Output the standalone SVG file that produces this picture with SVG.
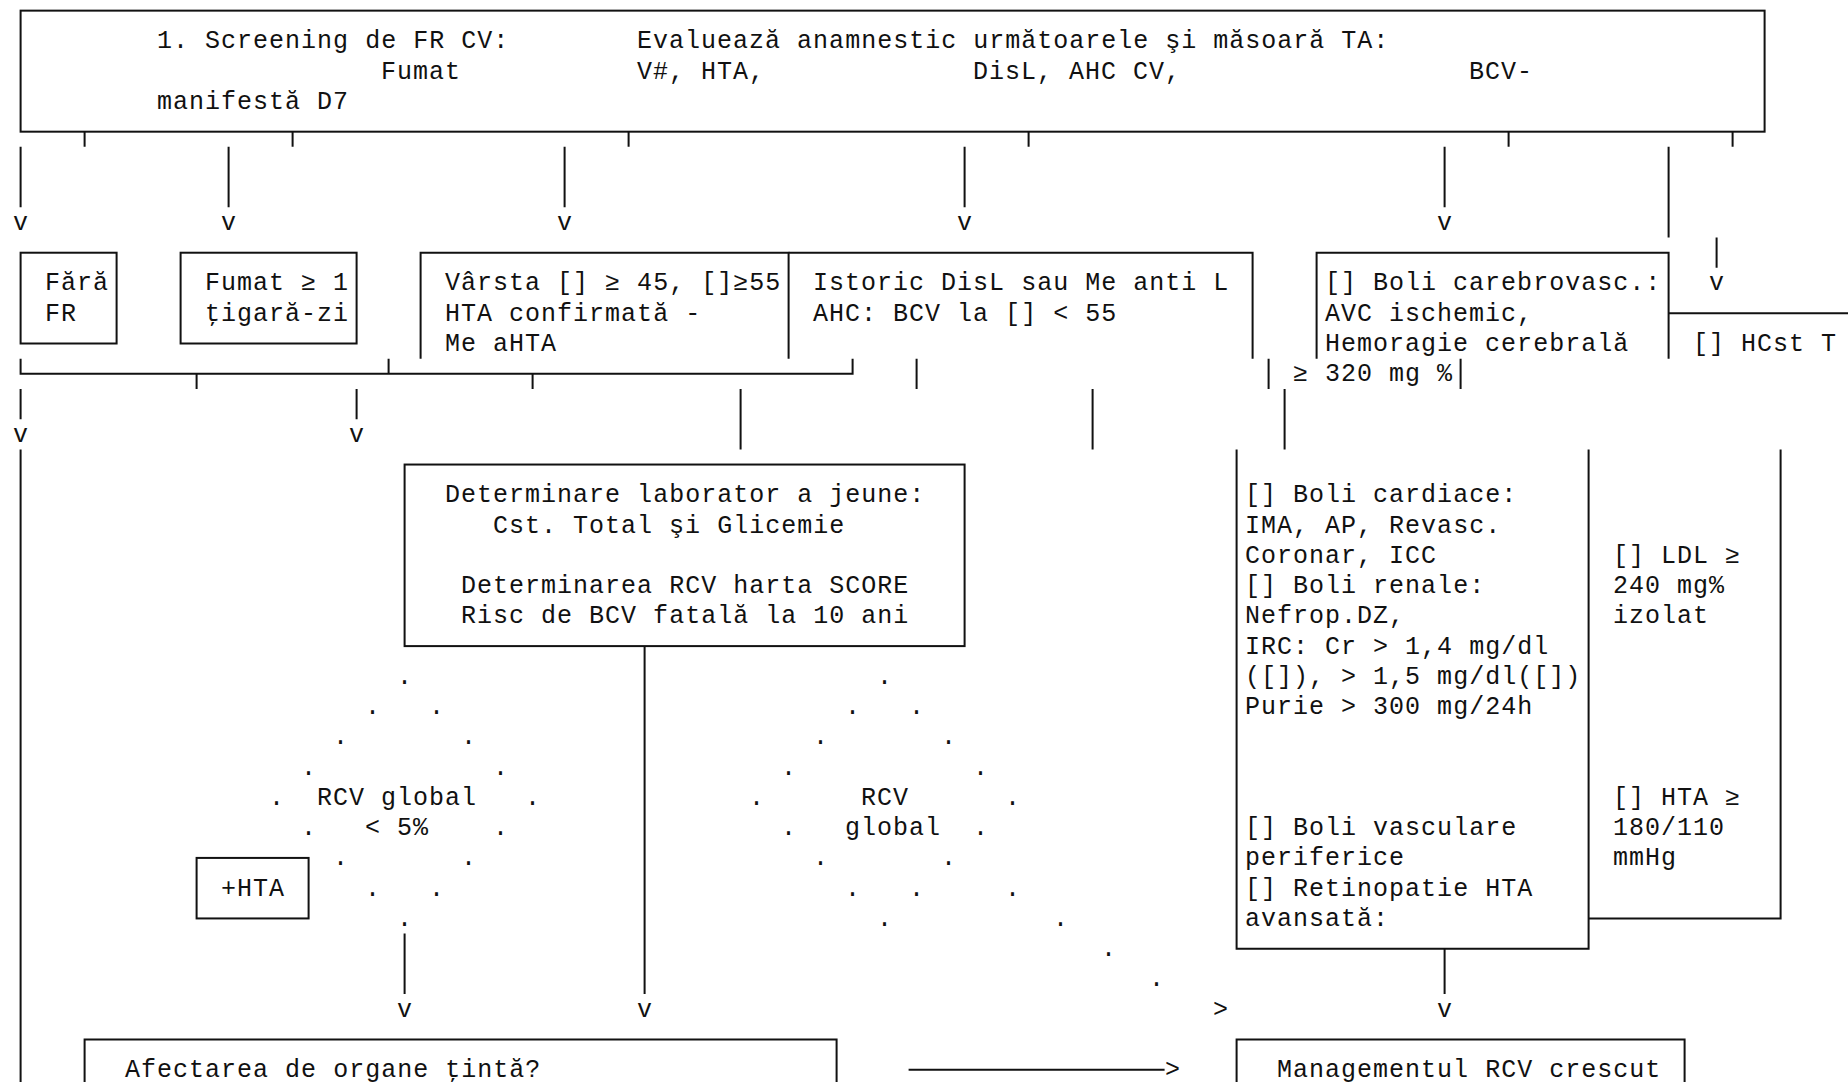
<svg xmlns="http://www.w3.org/2000/svg" width="1848" height="1082" viewBox="0 0 1848 1082">
<style>
  text{font-family:"Liberation Mono","Courier New",monospace;font-size:25px;letter-spacing:1px;fill:#111}
  .c{text-anchor:middle;letter-spacing:0}
  .ln{fill:none;stroke:#111;stroke-width:2}
</style>
<rect width="1848" height="1082" fill="#fff"/>

<!-- 1. screening header -->
<g id="n-screening">
  <rect class="ln" x="20.6" y="10.64" width="1744" height="121.04"/>
  <text x="157.1" y="48.4">1. Screening de FR CV:</text>
  <text x="637.1" y="48.4">Evaluează anamnestic următoarele şi măsoară TA:</text>
  <text x="381.1" y="78.66">Fumat</text>
  <text x="637.1" y="78.66">V#, HTA,</text>
  <text x="973.1" y="78.66">DisL, AHC CV,</text>
  <text x="1469.1" y="78.66">BCV-</text>
  <text x="157.1" y="108.92">manifestă D7</text>
</g>

<!-- risk factor boxes -->
<g id="n-fara">
  <rect class="ln" x="20.6" y="252.72" width="96" height="90.78"/>
  <text x="45.1" y="290.48">Fără</text>
  <text x="45.1" y="320.74">FR</text>
</g>
<g id="n-fumat">
  <rect class="ln" x="180.6" y="252.72" width="176" height="90.78"/>
  <text x="205.1" y="290.48">Fumat ≥ 1</text>
  <text x="205.1" y="320.74">ţigară-zi</text>
</g>
<g id="n-varsta">
  <path class="ln" d="M420.6,358.63 V252.72 H788.6 V358.63"/>
  <text x="445.1" y="290.48">Vârsta [] ≥ 45, []≥55</text>
  <text x="445.1" y="320.74">HTA confirmată -</text>
  <text x="445.1" y="351">Me aHTA</text>
</g>
<g id="n-istoric">
  <path class="ln" d="M788.6,252.72 H1252.6 V358.63"/>
  <text x="813.1" y="290.48">Istoric DisL sau Me anti L</text>
  <text x="813.1" y="320.74">AHC: BCV la [] &lt; 55</text>
</g>
<g id="n-cerebro">
  <path class="ln" d="M1316.6,358.63 V252.72 H1668.6 V358.63"/>
  <text x="1325.1" y="290.48">[] Boli carebrovasc.:</text>
  <text x="1325.1" y="320.74">AVC ischemic,</text>
  <text x="1325.1" y="351">Hemoragie cerebrală</text>
</g>
<g id="n-hcst">
  <path class="ln" d="M1668.6,313.24 H1848"/>
  <text x="1693.1" y="351">[] HCst T</text>
  <path class="ln" d="M1268.6,358.63 V388.89 M1460.6,358.63 V388.89"/>
  <text x="1293.1" y="381.26">≥ 320 mg %</text>
</g>

<!-- laboratory / SCORE box -->
<g id="n-lab">
  <rect class="ln" x="404.6" y="464.54" width="560" height="181.56"/>
  <text x="445.1" y="502.3">Determinare laborator a jeune:</text>
  <text x="493.1" y="532.56">Cst. Total şi Glicemie</text>
  <text x="461.1" y="593.08">Determinarea RCV harta SCORE</text>
  <text x="461.1" y="623.34">Risc de BCV fatală la 10 ani</text>
</g>

<!-- established disease column -->
<g id="n-boli">
  <path class="ln" d="M1236.6,449.41 V948.7 H1588.6 V449.41"/>
  <text x="1245.1" y="502.3">[] Boli cardiace:</text>
  <text x="1245.1" y="532.56">IMA, AP, Revasc.</text>
  <text x="1245.1" y="562.82">Coronar, ICC</text>
  <text x="1245.1" y="593.08">[] Boli renale:</text>
  <text x="1245.1" y="623.34">Nefrop.DZ,</text>
  <text x="1245.1" y="653.6">IRC: Cr &gt; 1,4 mg/dl</text>
  <text x="1245.1" y="683.86">([]), &gt; 1,5 mg/dl([])</text>
  <text x="1245.1" y="714.12">Purie &gt; 300 mg/24h</text>
  <text x="1245.1" y="835.16">[] Boli vasculare</text>
  <text x="1245.1" y="865.42">periferice</text>
  <text x="1245.1" y="895.68">[] Retinopatie HTA</text>
  <text x="1245.1" y="925.94">avansată:</text>
</g>
<g id="n-ldl">
  <path class="ln" d="M1588.6,918.44 H1780.6 V449.41"/>
  <text x="1613.1" y="562.82">[] LDL ≥</text>
  <text x="1613.1" y="593.08">240 mg%</text>
  <text x="1613.1" y="623.34">izolat</text>
  <text x="1613.1" y="804.9">[] HTA ≥</text>
  <text x="1613.1" y="835.16">180/110</text>
  <text x="1613.1" y="865.42">mmHg</text>
</g>

<!-- decision: RCV global < 5% -->
<g id="n-rcv5">
  <text class="c" x="404.6" y="683.86">.</text>
  <text class="c" x="372.6" y="714.12">.</text><text class="c" x="436.6" y="714.12">.</text>
  <text class="c" x="340.6" y="744.38">.</text><text class="c" x="468.6" y="744.38">.</text>
  <text class="c" x="308.6" y="774.64">.</text><text class="c" x="500.6" y="774.64">.</text>
  <text class="c" x="276.6" y="804.9">.</text><text class="c" x="532.6" y="804.9">.</text>
  <text class="c" x="308.6" y="835.16">.</text><text class="c" x="500.6" y="835.16">.</text>
  <text class="c" x="340.6" y="865.42">.</text><text class="c" x="468.6" y="865.42">.</text>
  <text class="c" x="372.6" y="895.68">.</text><text class="c" x="436.6" y="895.68">.</text>
  <text class="c" x="404.6" y="925.94">.</text>
  <text x="317.1" y="804.9">RCV global</text>
  <text x="365.1" y="835.16">&lt; 5%</text>
</g>
<g id="n-hta">
  <rect class="ln" x="196.6" y="857.92" width="112" height="60.52"/>
  <text x="221.1" y="895.68">+HTA</text>
</g>

<!-- decision: RCV global -->
<g id="n-rcvglobal">
  <text class="c" x="884.6" y="683.86">.</text>
  <text class="c" x="852.6" y="714.12">.</text><text class="c" x="916.6" y="714.12">.</text>
  <text class="c" x="820.6" y="744.38">.</text><text class="c" x="948.6" y="744.38">.</text>
  <text class="c" x="788.6" y="774.64">.</text><text class="c" x="980.6" y="774.64">.</text>
  <text class="c" x="756.6" y="804.9">.</text><text class="c" x="1012.6" y="804.9">.</text>
  <text class="c" x="788.6" y="835.16">.</text><text class="c" x="980.6" y="835.16">.</text>
  <text class="c" x="820.6" y="865.42">.</text><text class="c" x="948.6" y="865.42">.</text>
  <text class="c" x="852.6" y="895.68">.</text><text class="c" x="916.6" y="895.68">.</text>
  <text class="c" x="884.6" y="925.94">.</text>
  <text x="861.1" y="804.9">RCV</text>
  <text x="845.1" y="835.16">global</text>
</g>

<!-- bottom boxes -->
<g id="n-afectarea">
  <path class="ln" d="M84.6,1084 V1039.48 H836.6 V1084"/>
  <text x="125.1" y="1077.24">Afectarea de organe ţintă?</text>
</g>
<g id="n-management">
  <path class="ln" d="M1236.6,1084 V1039.48 H1684.6 V1084"/>
  <text x="1277.1" y="1077.24">Managementul RCV crescut</text>
</g>

<!-- connectors -->
<g id="connectors">
  <path class="ln" d="M84.6,131.68 V146.81 M292.6,131.68 V146.81 M628.6,131.68 V146.81 M1028.6,131.68 V146.81 M1508.6,131.68 V146.81 M1732.6,131.68 V146.81"/>
  <path class="ln" d="M20.6,146.81 V207.33 M228.6,146.81 V207.33 M564.6,146.81 V207.33 M964.6,146.81 V207.33 M1444.6,146.81 V207.33 M1668.6,146.81 V237.59 M1716.6,237.59 V267.85"/>
  <text class="c" x="20.6" y="229.96">v</text>
  <text class="c" x="228.6" y="229.96">v</text>
  <text class="c" x="564.6" y="229.96">v</text>
  <text class="c" x="964.6" y="229.96">v</text>
  <text class="c" x="1444.6" y="229.96">v</text>
  <text class="c" x="1716.6" y="290.48">v</text>

  <path class="ln" d="M20.6,358.63 V373.76 H852.6 V358.63 M388.6,358.63 V373.76 M196.6,373.76 V388.89 M532.6,373.76 V388.89 M916.6,358.63 V388.89"/>
  <path class="ln" d="M20.6,388.89 V419.15 M356.6,388.89 V419.15 M740.6,388.89 V449.41 M1092.6,388.89 V449.41 M1284.6,388.89 V449.41"/>
  <text class="c" x="20.6" y="441.78">v</text>
  <text class="c" x="356.6" y="441.78">v</text>

  <path class="ln" d="M20.6,449.41 V1084"/>
  <path class="ln" d="M644.6,646.1 V994.09 M404.6,933.57 V994.09 M1444.6,948.7 V994.09"/>
  <text class="c" x="404.6" y="1016.72">v</text>
  <text class="c" x="644.6" y="1016.72">v</text>
  <text class="c" x="1444.6" y="1016.72">v</text>

  <text class="c" x="1012.6" y="895.68">.</text>
  <text class="c" x="1060.6" y="925.94">.</text>
  <text class="c" x="1108.6" y="956.2">.</text>
  <text class="c" x="1156.6" y="986.46">.</text>
  <text class="c" x="1220.6" y="1016.72">&gt;</text>

  <path class="ln" d="M908.6,1069.74 H1164.6"/>
  <text class="c" x="1172.6" y="1077.24">&gt;</text>
</g>
</svg>
